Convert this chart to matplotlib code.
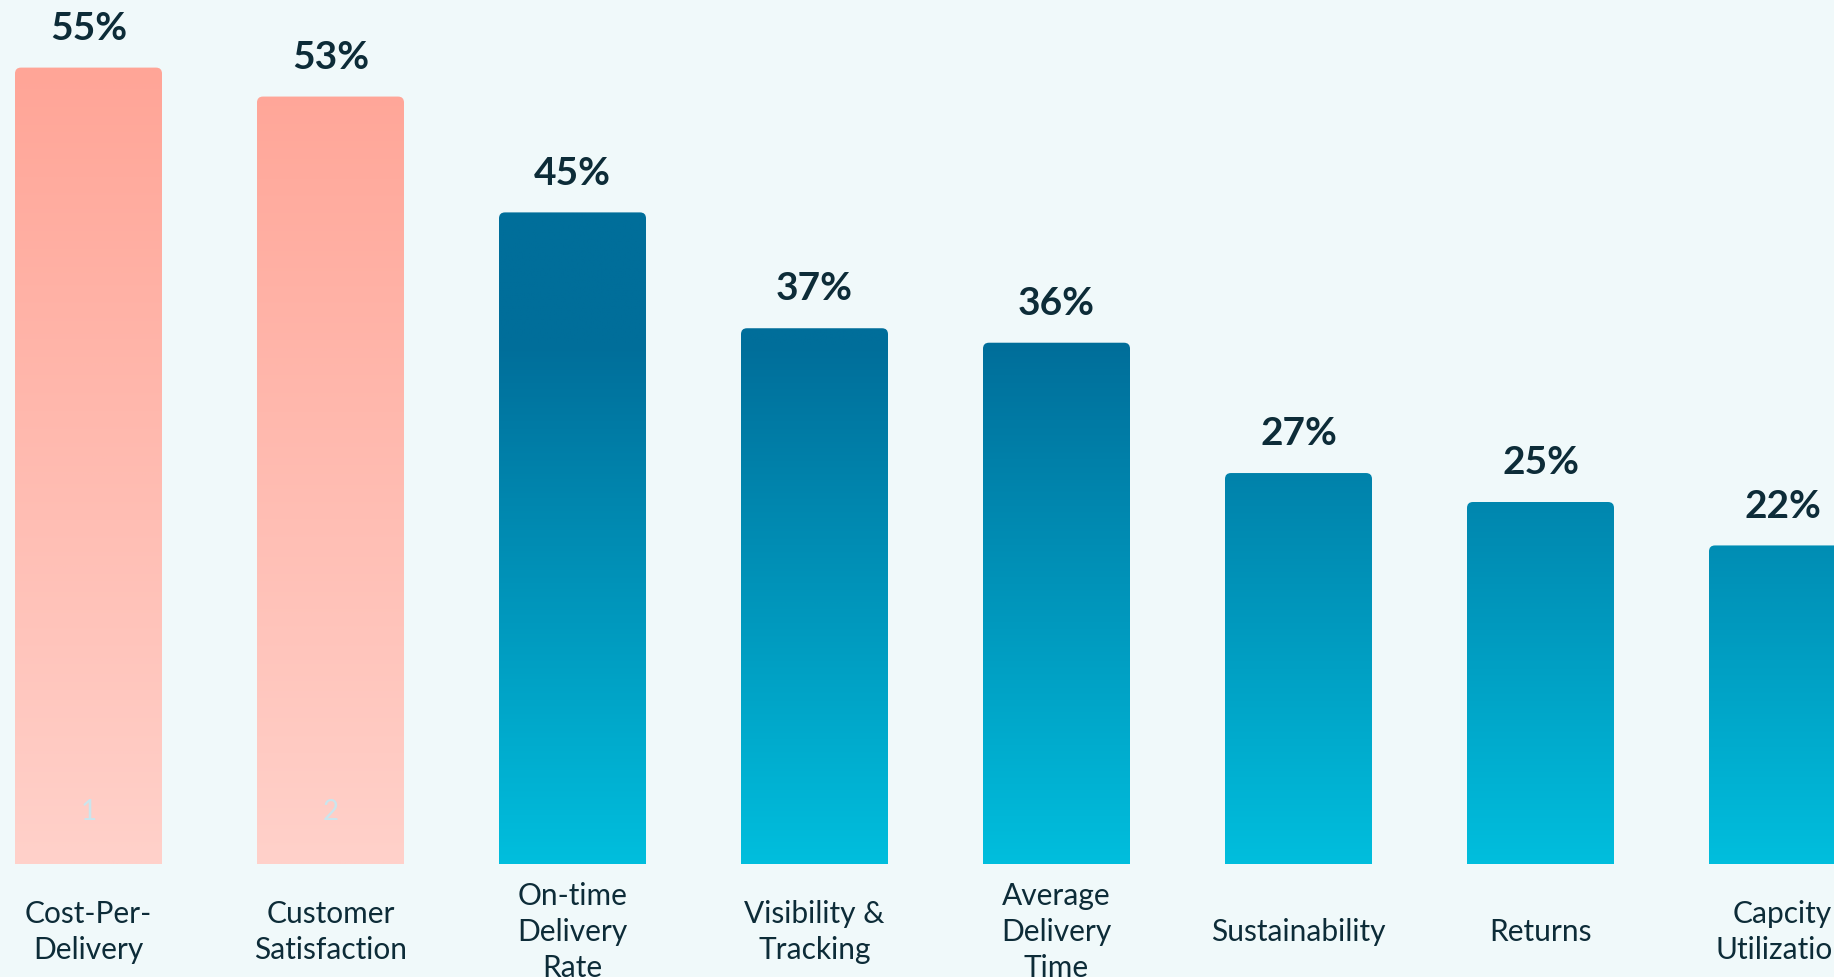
import numpy as np
import matplotlib
matplotlib.use("Agg")
import matplotlib.pyplot as plt
from matplotlib.patches import FancyBboxPatch
from matplotlib.colors import LinearSegmentedColormap

# Données
categories = ["Cost-Per-\nDelivery", "Customer\nSatisfaction", "On-time\nDelivery\nRate",
              "Visibility &\nTracking", "Average\nDelivery\nTime", "Sustainability",
              "Returns", "Capcity\nUtilization"]
valeurs = [55, 53, 45, 37, 36, 27, 25, 22]
rangs = ["1", "2"]  # numéros affichés dans les barres mises en avant
nb_accent = 2

bg = "#f0f9fa"
texte = "#0d2c38"
cmap_rose = LinearSegmentedColormap.from_list("rose", [(0, "#ffd1ca"), (1, "#ffa597")])
cmap_bleu = LinearSegmentedColormap.from_list("bleu", [(0, "#00bedd"), (36 / 45, "#006e9a"), (1, "#006e9a")])

W, H, dpi = 1834, 978, 100
fig = plt.figure(figsize=(W / dpi, H / dpi), dpi=dpi, facecolor=bg)
ax = fig.add_axes([0, 0, 1, 1])
ax.set_facecolor(bg)

px_x = 242.0        # pixels par catégorie
px_y = 14.48        # pixels par point de %
base = 865.0        # ligne de base en pixels (depuis le haut)
x0 = 88.5
xmin, xmax = -x0 / px_x, (W - x0) / px_x
ymin, ymax = -(H - base) / px_y, base / px_y

largeur = 147 / px_x
rayon_px = 6
aspect = (1 / px_y) / (1 / px_x)

for i, v in enumerate(valeurs):
    gauche = i - largeur / 2
    cmap = cmap_rose if i < nb_accent else cmap_bleu
    vmax = 55 if i < nb_accent else 45
    patch = FancyBboxPatch((gauche, -1), largeur, v + 1,
                           boxstyle="round,pad=0,rounding_size=%f" % (rayon_px / px_x),
                           mutation_aspect=aspect, linewidth=0, facecolor="none")
    ax.add_patch(patch)
    grad = np.linspace(0, v, 300).reshape(-1, 1)
    im = ax.imshow(grad, cmap=cmap, vmin=0, vmax=vmax, origin="lower", aspect="auto",
                   extent=[gauche, gauche + largeur, 0, v], interpolation="bilinear")
    im.set_clip_path(patch)
    ax.annotate("%d%%" % v, (i, v), xytext=(0, 29), textcoords="offset points",
                ha="center", va="center", fontsize=28, fontweight="bold",
                family="Lato", color=texte)
    ax.text(i, ymin + (H - 932) / px_y, categories[i], ha="center", va="center",
            fontsize=21.5, family="Lato", color=texte, linespacing=1.35)

for i, r in enumerate(rangs):
    ax.text(i, (base - 812) / px_y, r, ha="center", va="center", fontsize=20,
            family="Lato", color="#cbe5ed")

ax.set_xlim(xmin, xmax)
ax.set_ylim(ymin, ymax)
ax.axis("off")

fig.savefig("out.png", dpi=dpi, facecolor=bg)
